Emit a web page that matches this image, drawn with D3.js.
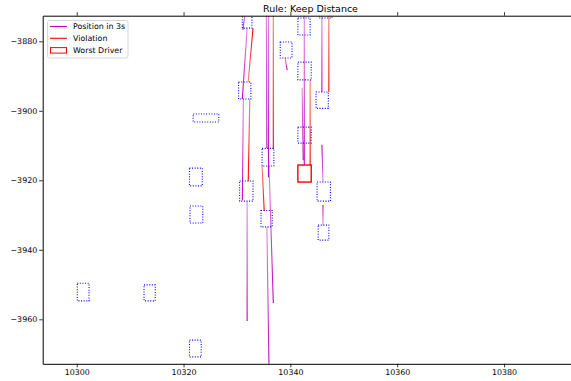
<!DOCTYPE html>
<html>
<head>
<meta charset="utf-8">
<script src="https://cdn.jsdelivr.net/npm/d3@7"></script>
<style>
  body { margin: 0; background: #fff; }
  svg { display: block; font-family: "DejaVu Sans", sans-serif; }
</style>
</head>
<body>
<svg id="chart" width="571" height="381"></svg>
<script>
// cajas de vehiculos [xmin, xmax, ymin, ymax]
const vehicleBoxes = [
  [10300.1, 10302.3, -3954.7, -3949.6],
  [10312.6, 10314.7, -3954.7, -3950.1],
  [10321.1, 10323.3, -3970.8, -3966.0],
  [10321.1, 10323.5, -3921.6, -3916.5],
  [10321.2, 10323.6, -3932.3, -3927.4],
  [10321.8, 10326.6, -3903.2, -3900.9],
  [10330.5, 10333.0, -3926.0, -3920.2],
  [10334.7, 10336.9, -3915.9, -3910.8],
  [10334.5, 10336.6, -3933.4, -3928.7],
  [10330.3, 10332.6, -3896.6, -3891.7],
  [10331.0, 10332.8, -3876.2, -3871.3],
  [10338.1, 10340.3, -3884.8, -3880.2],
  [10341.4, 10343.7, -3878.2, -3873.3],
  [10341.4, 10343.9, -3891.1, -3886.0],
  [10341.4, 10343.9, -3909.3, -3904.7],
  [10344.8, 10347.1, -3899.3, -3894.6],
  [10345.0, 10347.5, -3926.0, -3920.5],
  [10345.2, 10347.2, -3937.2, -3932.9],
  [10345.4, 10347.8, -3873.3, -3868.4]
];

// posicion en 3s [x1, y1, x2, y2] (de claro a oscuro)
const predictionLines = [
  [10331.5, -3872.1, 10331.1, -3876.7],
  [10331.9, -3876.2, 10331.0, -3896.6],
  [10331.2, -3896.6, 10331.0, -3925.7],
  [10331.9, -3926.0, 10331.9, -3960.5],
  [10335.5, -3871.0, 10335.6, -3910.7],
  [10335.9, -3871.0, 10335.9, -3919.1],
  [10336.0, -3915.9, 10336.8, -3955.3],
  [10335.6, -3933.4, 10336.0, -3974.6],
  [10342.6, -3871.0, 10342.6, -3915.6],
  [10342.2, -3893.4, 10342.4, -3914.2],
  [10345.9, -3871.0, 10345.9, -3894.6],
  [10346.1, -3920.5, 10345.9, -3909.8],
  [10346.1, -3932.9, 10346.1, -3927.1],
  [10339.0, -3884.8, 10339.4, -3888.3]
];

// violaciones [x1, y1, x2, y2] (de claro a oscuro)
const violationLines = [
  [10332.1, -3891.7, 10333.0, -3876.2],
  [10332.4, -3896.6, 10332.1, -3920.2],
  [10336.8, -3871.0, 10336.8, -3911.0],
  [10334.7, -3915.9, 10335.1, -3928.8],
  [10343.7, -3891.1, 10343.7, -3915.6],
  [10347.2, -3871.0, 10347.2, -3894.6]
];

const worstDriver = [10341.4, 10343.9, -3920.5, -3915.6];

const xTicks = [10300, 10320, 10340, 10360, 10380];
const yTicks = [-3960, -3940, -3920, -3900, -3880];
const legendLabels = ["Position in 3s", "Violation", "Worst Driver"];

const svg = d3.select("#chart");
const mLeft = 42.7, mRight = 578.3, mTop = 15.7, mBottom = 363.8;

const x = d3.scaleLinear().domain([10293.63, 10393.9]).range([mLeft, mRight]);
const y = d3.scaleLinear().domain([-3972.8, -3872.63]).range([mBottom, mTop]);

const defs = svg.append("defs");
defs.append("clipPath").attr("id", "clip")
  .append("rect")
  .attr("x", mLeft).attr("y", mTop)
  .attr("width", mRight - mLeft).attr("height", mBottom - mTop);

const plot = svg.append("g").attr("clip-path", "url(#clip)");

// lineas con degradado de opacidad
function drawLines(data, color, prefix, o0, o1) {
  data.forEach((d, i) => {
    const id = prefix + i;
    const grad = defs.append("linearGradient")
      .attr("id", id)
      .attr("gradientUnits", "userSpaceOnUse")
      .attr("x1", x(d[0])).attr("y1", y(d[1]))
      .attr("x2", x(d[2])).attr("y2", y(d[3]));
    grad.append("stop").attr("offset", 0).attr("stop-color", color).attr("stop-opacity", o0);
    grad.append("stop").attr("offset", 1).attr("stop-color", color).attr("stop-opacity", o1);
    plot.append("line")
      .attr("x1", x(d[0])).attr("y1", y(d[1]))
      .attr("x2", x(d[2]) + 0.01).attr("y2", y(d[3]) + 0.01)
      .attr("stroke", `url(#${id})`)
      .attr("stroke-width", 1.1);
  });
}

drawLines(predictionLines, "#bf00bf", "gm", 0.45, 1);
drawLines(violationLines, "#ff0000", "gr", 0.5, 1);

plot.selectAll("rect.veh")
  .data(vehicleBoxes)
  .join("rect")
  .attr("class", "veh")
  .attr("x", d => x(d[0]))
  .attr("y", d => y(d[3]))
  .attr("width", d => x(d[1]) - x(d[0]))
  .attr("height", d => y(d[2]) - y(d[3]))
  .attr("fill", "none")
  .attr("stroke", "#0000ff")
  .attr("stroke-width", 1.1)
  .attr("stroke-dasharray", "1,1.6");

plot.append("rect")
  .attr("x", x(worstDriver[0]))
  .attr("y", y(worstDriver[3]))
  .attr("width", x(worstDriver[1]) - x(worstDriver[0]))
  .attr("height", y(worstDriver[2]) - y(worstDriver[3]))
  .attr("fill", "none")
  .attr("stroke", "#ff0000")
  .attr("stroke-width", 1.4);

// ejes
const fmt = d3.format("d");
const gx = svg.append("g").attr("transform", `translate(0,${mBottom})`)
  .call(d3.axisBottom(x).tickValues(xTicks).tickFormat(fmt).tickSize(3.5).tickSizeOuter(0).tickPadding(2.5));
const gxt = svg.append("g").attr("transform", `translate(0,${mTop})`)
  .call(d3.axisTop(x).tickValues(xTicks).tickFormat("").tickSize(3.5).tickSizeOuter(0));
const gy = svg.append("g").attr("transform", `translate(${mLeft},0)`)
  .call(d3.axisLeft(y).tickValues(yTicks).tickFormat(fmt).tickSize(3.5).tickSizeOuter(0).tickPadding(2));
svg.append("line")
  .attr("x1", mRight).attr("x2", mRight).attr("y1", mTop).attr("y2", mBottom)
  .attr("stroke", "#000").attr("stroke-width", 1);

[gx, gxt, gy].forEach(g => {
  g.select(".domain").attr("stroke", "#000").attr("stroke-width", 1);
  g.selectAll(".tick line").attr("stroke", "#000").attr("stroke-width", 0.8);
  g.selectAll(".tick text").attr("fill", "#000").style("font-size", "7.9px")
    .style("font-family", "DejaVu Sans, sans-serif");
});

svg.append("text")
  .attr("x", (mLeft + mRight) / 2)
  .attr("y", 11.5)
  .attr("text-anchor", "middle")
  .style("font-size", "9.5px")
  .text("Rule: Keep Distance");

// leyenda
const legend = svg.append("g");
legend.append("rect")
  .attr("x", 47.5).attr("y", 20.5)
  .attr("width", 80.5).attr("height", 37.5)
  .attr("rx", 2)
  .attr("fill", "#fff").attr("fill-opacity", 0.8)
  .attr("stroke", "#ccc").attr("stroke-width", 0.8);

const rows = legend.selectAll("g.row")
  .data(legendLabels)
  .join("g")
  .attr("class", "row")
  .attr("transform", (d, i) => `translate(0,${26.5 + i * 11.8})`);

rows.each(function(d, i) {
  const r = d3.select(this);
  if (i < 2) {
    r.append("line")
      .attr("x1", 50).attr("x2", 67)
      .attr("stroke", i === 0 ? "#bf00bf" : "#ff0000")
      .attr("stroke-width", 1.1);
  } else {
    r.append("rect")
      .attr("x", 50.5).attr("y", -2.5)
      .attr("width", 16).attr("height", 5.5)
      .attr("fill", "#fff")
      .attr("stroke", "#ff0000").attr("stroke-width", 1);
  }
  r.append("text")
    .attr("x", 73).attr("y", 2.9)
    .style("font-size", "7.9px")
    .text(d);
});
</script>
</body>
</html>
